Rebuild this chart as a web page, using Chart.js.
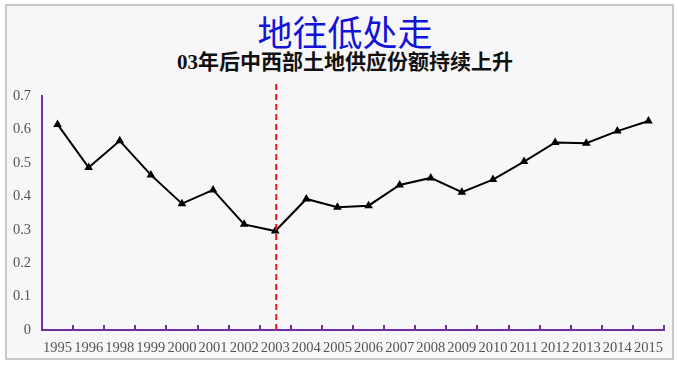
<!DOCTYPE html>
<html>
<head>
<meta charset="utf-8">
<script src="https://cdn.jsdelivr.net/npm/chart.js@4"></script>
<style>
  body { margin: 0; background: #ffffff; }
  #frame {
    position: absolute; left: 5px; top: 4px; width: 665px; height: 352px;
    border: 2px solid #c9c9c9; background: #f7f7f9;
  }
  .titulo {
    position: absolute; left: 6px; width: 678px; text-align: center; margin: 0;
  }
  #titulo1 {
    top: 10px; font: 400 35px "Noto Sans CJK SC", sans-serif; color: #1414d8; line-height: 42px;
  }
  #titulo2 {
    top: 50px; font: 700 21px "Liberation Serif", "Noto Sans CJK SC", serif; color: #111; line-height: 24px;
  }
  #grafico { position: absolute; left: 0; top: 0; }
</style>
</head>
<body>
<div id="frame"></div>
<h1 class="titulo" id="titulo1">地往低处走</h1>
<h2 class="titulo" id="titulo2">03年后中西部土地供应份额持续上升</h2>
<canvas id="grafico" width="678" height="365"></canvas>
<script>
const anos = ["1995", "1996", "1998", "1999", "2000", "2001", "2002", "2003", "2004", "2005",
  "2006", "2007", "2008", "2009", "2010", "2011", "2012", "2013", "2014", "2015"];
const participacao = [0.615, 0.486, 0.566, 0.464, 0.378, 0.419, 0.316, 0.296, 0.392, 0.367,
  0.372, 0.434, 0.455, 0.412, 0.450, 0.504, 0.561, 0.559, 0.595, 0.625];
const anoCorte = "2003";

const roxo = "#7030a0";

// linha vermelha tracejada no ano de corte + marcas do eixo x viradas para cima
const extras = {
  id: "extras",
  afterDatasetsDraw(chart) {
    const ctx = chart.ctx;
    const x = chart.scales.x;
    const area = chart.chartArea;
    const passo = x.getPixelForValue(1) - x.getPixelForValue(0);

    ctx.save();
    ctx.strokeStyle = roxo;
    ctx.lineWidth = 2;
    ctx.beginPath();
    for (let i = 0; i < anos.length; i++) {
      const px = Math.round(x.getPixelForValue(i) + passo / 2);
      ctx.moveTo(px, area.bottom);
      ctx.lineTo(px, area.bottom - 5);
    }
    ctx.stroke();

    const xc = x.getPixelForValue(anos.indexOf(anoCorte)) + 1;
    ctx.strokeStyle = "#e01818";
    ctx.lineWidth = 2;
    ctx.setLineDash([6, 4]);
    ctx.beginPath();
    ctx.moveTo(xc, area.top - 12);
    ctx.lineTo(xc, area.bottom);
    ctx.stroke();
    ctx.restore();
  },
};

const grafico = new Chart(document.getElementById("grafico"), {
  type: "line",
  data: {
    labels: anos,
    datasets: [
      {
        label: "份额",
        data: participacao,
        borderColor: "#000",
        backgroundColor: "#000",
        borderWidth: 2,
        tension: 0,
        pointStyle: "triangle",
        pointRadius: 3,
        pointHoverRadius: 3,
      },
    ],
  },
  options: {
    responsive: false,
    devicePixelRatio: 1,
    animation: false,
    layout: { padding: { top: 96, right: 14, bottom: 0, left: 0 } },
    plugins: { legend: { display: false }, tooltip: { enabled: false } },
    scales: {
      x: {
        offset: true,
        grid: { display: false, drawTicks: false },
        border: { display: true, color: roxo, width: 2 },
        ticks: {
          color: "#555",
          font: { family: "Liberation Serif", size: 14.5 },
          autoSkip: false,
          maxRotation: 0,
          padding: 9,
        },
        afterFit(scale) { scale.height = 35; },
      },
      y: {
        min: 0,
        max: 0.7,
        grid: { display: false, drawTicks: false },
        border: { display: true, color: roxo, width: 2 },
        ticks: {
          stepSize: 0.1,
          color: "#555",
          font: { family: "Liberation Serif", size: 14.5 },
          padding: 11,
        },
        afterFit(scale) { scale.width = 42; },
      },
    },
  },
  plugins: [extras],
});
</script>
</body>
</html>
